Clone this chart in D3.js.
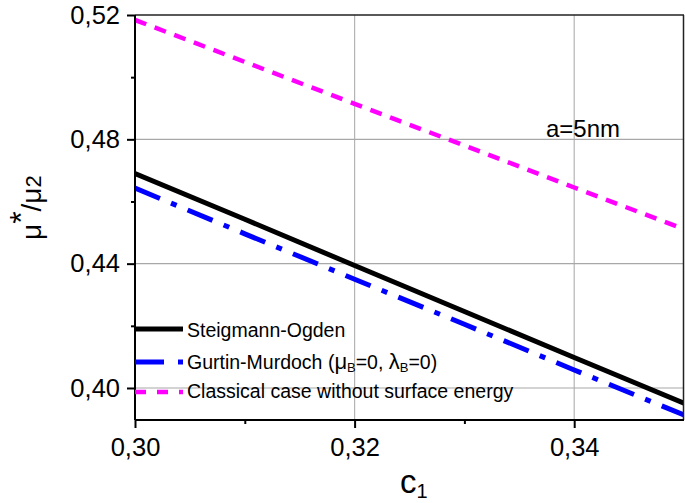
<!DOCTYPE html>
<html>
<head>
<meta charset="utf-8">
<script src="https://cdn.jsdelivr.net/npm/d3@7"></script>
<style>
  html, body { margin: 0; padding: 0; background: #fff; }
  svg { display: block; font-family: "Liberation Sans", Arial, sans-serif; }
</style>
</head>
<body>
<svg id="chart" width="685" height="503"></svg>
<script>
// ---- data ----
const c1 = [0.30, 0.31, 0.32, 0.33, 0.34, 0.35];
const steigmannOgden = [0.4690, 0.4543, 0.4394, 0.4246, 0.4098, 0.3951];
const gurtinMurdoch  = [0.4643, 0.4496, 0.4350, 0.4205, 0.4058, 0.3913];
const classical      = [0.5184, 0.5049, 0.4914, 0.4780, 0.4645, 0.4511];
const xMajorTicks = [0.30, 0.32, 0.34];
const xMinorTicks = [0.31, 0.33];
const yMajorTicks = [0.40, 0.44, 0.48, 0.52];
const yMinorTicks = [0.42, 0.46, 0.50];
const seriesNames = ["Steigmann-Ogden", "Gurtin-Murdoch", "Classical case without surface energy"];
const annotation = "a=5nm";

const svg = d3.select("#chart");
const L = 135, R = 684, T = 15, B = 420;
const x = d3.scaleLinear().domain([0.30, 0.35]).range([L, R]);
const y = d3.scaleLinear().domain([0.3897, 0.52]).range([B, T]);
const fmt = v => d3.format(".2f")(v).replace(".", ",");

// grid
const grid = svg.append("g");
grid.selectAll("line.gx").data(xMajorTicks.filter(v => v > 0.30)).enter().append("line")
  .attr("x1", d => x(d)).attr("x2", d => x(d)).attr("y1", T).attr("y2", B)
  .attr("stroke", "#b4b4b4").attr("stroke-width", 1.2);
grid.selectAll("line.gy").data(yMajorTicks.filter(v => v < 0.52)).enter().append("line")
  .attr("x1", L).attr("x2", R).attr("y1", d => y(d)).attr("y2", d => y(d))
  .attr("stroke", "#a8a8a8").attr("stroke-width", 1.2);

// series
svg.append("clipPath").attr("id", "clip").append("rect")
  .attr("x", L).attr("y", T).attr("width", R - L).attr("height", B - T);
const line = d3.line().x(d => x(d[0])).y(d => y(d[1]));
const plot = svg.append("g").attr("clip-path", "url(#clip)");
const styles = [
  { vals: steigmannOgden, color: "#000000", w: 5, dash: null },
  { vals: gurtinMurdoch, color: "#0000ff", w: 5, dash: "27,12,6,12" },
  { vals: classical, color: "#ff00ff", w: 4.5, dash: "12,9" }
];
styles.forEach(s => {
  plot.append("path")
    .datum(c1.map((c, i) => [c, s.vals[i]]))
    .attr("d", line)
    .attr("fill", "none")
    .attr("stroke", s.color)
    .attr("stroke-width", s.w)
    .attr("stroke-dasharray", s.dash);
});

// frame
svg.append("line").attr("x1", L).attr("x2", R).attr("y1", T).attr("y2", T).attr("stroke", "#222").attr("stroke-width", 1.5);
svg.append("line").attr("x1", R - 0.5).attr("x2", R - 0.5).attr("y1", T).attr("y2", B).attr("stroke", "#222").attr("stroke-width", 1.5);

// axes
const xAxis = svg.append("g").attr("transform", `translate(0,${B})`)
  .call(d3.axisBottom(x).tickValues(xMajorTicks).tickFormat(fmt).tickSize(8).tickPadding(10));
svg.append("g").attr("transform", `translate(0,${B})`)
  .call(d3.axisBottom(x).tickValues(xMinorTicks).tickFormat("").tickSize(4))
  .call(g => g.select(".domain").remove());
const yAxis = svg.append("g").attr("transform", `translate(${L},0)`)
  .call(d3.axisLeft(y).tickValues(yMajorTicks).tickFormat(fmt).tickSize(8).tickPadding(7));
svg.append("g").attr("transform", `translate(${L},0)`)
  .call(d3.axisLeft(y).tickValues(yMinorTicks).tickFormat("").tickSize(4))
  .call(g => g.select(".domain").remove());
svg.selectAll(".domain").attr("stroke", "#000").attr("stroke-width", 2);
svg.selectAll(".tick line").attr("stroke", "#000").attr("stroke-width", 2);
xAxis.selectAll(".tick text").attr("font-size", 25.5).attr("fill", "#000")
  .attr("font-family", "Liberation Sans, Arial, sans-serif");
yAxis.selectAll(".tick text").attr("font-size", 25.5).attr("fill", "#000")
  .attr("font-family", "Liberation Sans, Arial, sans-serif");
xAxis.select(".domain").attr("d", `M${L},0H${R}`);
yAxis.select(".domain").attr("d", `M0,${B}V${T}`);

// axis titles
const xt = svg.append("text").attr("x", 400).attr("y", 493).attr("font-size", 33).attr("fill", "#000");
xt.append("tspan").text("c");
xt.append("tspan").attr("font-size", 20).attr("dy", 5).text("1");

const yt = svg.append("text").attr("transform", "translate(41,240) rotate(-90)")
  .attr("font-size", 28).attr("fill", "#000");
yt.append("tspan").text("μ");
yt.append("tspan").attr("font-size", 32).attr("dy", -9).text("*");
yt.append("tspan").attr("dy", 9).text("/μ");
yt.append("tspan").attr("font-size", 22).text("2");

// annotation
svg.append("text").attr("x", 546).attr("y", 137).attr("font-size", 24).attr("fill", "#000").text(annotation);

// legend
const legY = [329, 362, 392];
const legDash = [null, "29,14,6,20", "11,11"];
styles.forEach((s, i) => {
  svg.append("line").attr("x1", L).attr("x2", 183)
    .attr("y1", legY[i]).attr("y2", legY[i])
    .attr("stroke", s.color).attr("stroke-width", s.w)
    .attr("stroke-dasharray", legDash[i]);
});
const lt = svg.append("g").attr("font-size", 19.5).attr("fill", "#000");
lt.append("text").attr("x", 187).attr("y", legY[0] + 8).text(seriesNames[0]);
const g2 = lt.append("text").attr("x", 187).attr("y", legY[1] + 7);
g2.append("tspan").text(seriesNames[1] + " (");
g2.append("tspan").attr("font-size", 22).text("μ");
g2.append("tspan").attr("font-size", 13).attr("dy", 3).text("B");
g2.append("tspan").attr("dy", -3).text("=0, ");
g2.append("tspan").attr("font-size", 22).text("λ");
g2.append("tspan").attr("font-size", 13).attr("dy", 3).text("B");
g2.append("tspan").attr("dy", -3).text("=0)");
lt.append("text").attr("x", 187).attr("y", legY[2] + 6).text(seriesNames[2]);
</script>
</body>
</html>
